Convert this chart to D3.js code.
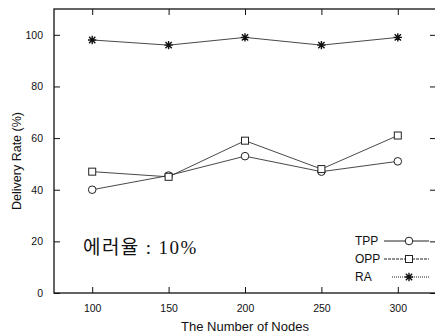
<!DOCTYPE html>
<html lang="ko">
<head>
    <meta charset="UTF-8">
    <title>Delivery Rate</title>
    <script src="https://d3js.org/d3.v7.min.js"></script>
    <style>
        body { margin: 0; background: #fff; }
        svg { display: block; font-family: "Liberation Sans", Arial, sans-serif; }
        .tick text { font-size: 10.5px; fill: #111; }
        .axis path, .axis line { stroke: #111; }
    </style>
</head>
<body>
    <div id="chart"></div>
    <script>
        // data
        var nodes = [100, 150, 200, 250, 300];
        var tpp = [40, 45.5, 53, 47, 51];
        var opp = [47, 45, 59, 48, 61];
        var ra = [98, 96, 99, 96, 99];
        var yTicks = [0, 20, 40, 60, 80, 100];
        var seriesNames = ["TPP", "OPP", "RA"];

        var width = 435, height = 335;
        var margin = { top: 9, right: -1, bottom: 42, left: 54 };

        var svg = d3.select("#chart").append("svg")
            .attr("width", width)
            .attr("height", height);

        var x = d3.scaleLinear()
            .domain([75, 325])
            .range([margin.left, width - margin.right]);

        var y = d3.scaleLinear()
            .domain([0, 110])
            .range([height - margin.bottom, margin.top]);

        // frame
        svg.append("rect")
            .attr("x", x(75)).attr("y", y(110))
            .attr("width", x(325) - x(75)).attr("height", y(0) - y(110))
            .attr("fill", "none").attr("stroke", "#111").attr("stroke-width", 1.3);

        // axes, ticks pointing inward
        svg.append("g").attr("class", "axis")
            .attr("transform", "translate(0," + y(0) + ")")
            .call(d3.axisBottom(x).tickValues(nodes).tickSizeInner(-6).tickSizeOuter(0).tickPadding(12))
            .call(g => g.select(".domain").remove());
        svg.append("g").attr("class", "axis")
            .attr("transform", "translate(0," + y(110) + ")")
            .call(d3.axisTop(x).tickValues(nodes).tickSizeInner(-6).tickSizeOuter(0).tickFormat(""))
            .call(g => g.select(".domain").remove());
        svg.append("g").attr("class", "axis")
            .attr("transform", "translate(" + x(75) + ",0)")
            .call(d3.axisLeft(y).tickValues(yTicks).tickSizeInner(-6).tickSizeOuter(0).tickPadding(11))
            .call(g => g.select(".domain").remove());
        svg.append("g").attr("class", "axis")
            .attr("transform", "translate(" + x(325) + ",0)")
            .call(d3.axisRight(y).tickValues(yTicks).tickSizeInner(-6).tickSizeOuter(0).tickFormat(""))
            .call(g => g.select(".domain").remove());

        // axis labels
        svg.append("text")
            .attr("x", 245).attr("y", 331)
            .attr("text-anchor", "middle")
            .attr("font-size", 13)
            .attr("fill", "#111")
            .text("The Number of Nodes");
        svg.append("text")
            .attr("transform", "translate(21,161) rotate(-90)")
            .attr("text-anchor", "middle")
            .attr("font-size", 12.5)
            .attr("fill", "#111")
            .text("Delivery Rate (%)");

        // markers
        function drawMarker(g, kind) {
            if (kind === "TPP") {
                g.append("circle").attr("r", 3.8)
                    .attr("fill", "#fff").attr("stroke", "#222").attr("stroke-width", 1);
            } else if (kind === "OPP") {
                g.append("rect").attr("x", -3.5).attr("y", -3.5).attr("width", 7).attr("height", 7)
                    .attr("fill", "#fff").attr("stroke", "#222").attr("stroke-width", 1);
            } else {
                var s = 4.2;
                g.append("path")
                    .attr("d", "M" + (-s) + ",0H" + s + "M0," + (-s) + "V" + s +
                        "M" + (-s * 0.75) + "," + (-s * 0.75) + "L" + (s * 0.75) + "," + (s * 0.75) +
                        "M" + (-s * 0.75) + "," + (s * 0.75) + "L" + (s * 0.75) + "," + (-s * 0.75))
                    .attr("stroke", "#111").attr("stroke-width", 1.4);
            }
        }

        var series = [
            { name: "TPP", values: tpp },
            { name: "OPP", values: opp },
            { name: "RA", values: ra }
        ];

        var line = d3.line()
            .x(function(d, i) { return x(nodes[i]); })
            .y(function(d) { return y(d); });

        series.forEach(function(s) {
            svg.append("path")
                .attr("d", line(s.values))
                .attr("fill", "none")
                .attr("stroke", "#333")
                .attr("stroke-width", 0.9);
            s.values.forEach(function(v, i) {
                var g = svg.append("g")
                    .attr("transform", "translate(" + x(nodes[i]) + "," + y(v) + ")");
                drawMarker(g, s.name);
            });
        });

        // annotation
        svg.append("text")
            .attr("x", 83).attr("y", 254)
            .attr("font-family", "'Liberation Serif', 'Noto Sans CJK KR', serif")
            .attr("font-size", 19)
            .attr("letter-spacing", 1.4)
            .attr("fill", "#111")
            .text("에러율 : 10%");

        // legend
        var dashes = { TPP: null, OPP: "3,1", RA: "1,1" };
        var legend = svg.selectAll(".legend")
            .data(seriesNames)
            .enter().append("g")
            .attr("class", "legend")
            .attr("transform", function(d, i) { return "translate(355," + (241 + i * 18) + ")"; });

        legend.append("text")
            .attr("x", 0).attr("dy", "0.35em")
            .attr("font-size", 12)
            .attr("fill", "#111")
            .text(function(d) { return d; });
        legend.append("line")
            .attr("x1", function(d) { return d === "RA" ? 37 : 29; }).attr("x2", 74)
            .attr("stroke", "#222").attr("stroke-width", 1)
            .attr("stroke-dasharray", function(d) { return dashes[d]; });
        legend.each(function(d) {
            var g = d3.select(this).append("g").attr("transform", "translate(54,0)");
            drawMarker(g, d);
        });
    </script>
</body>
</html>
